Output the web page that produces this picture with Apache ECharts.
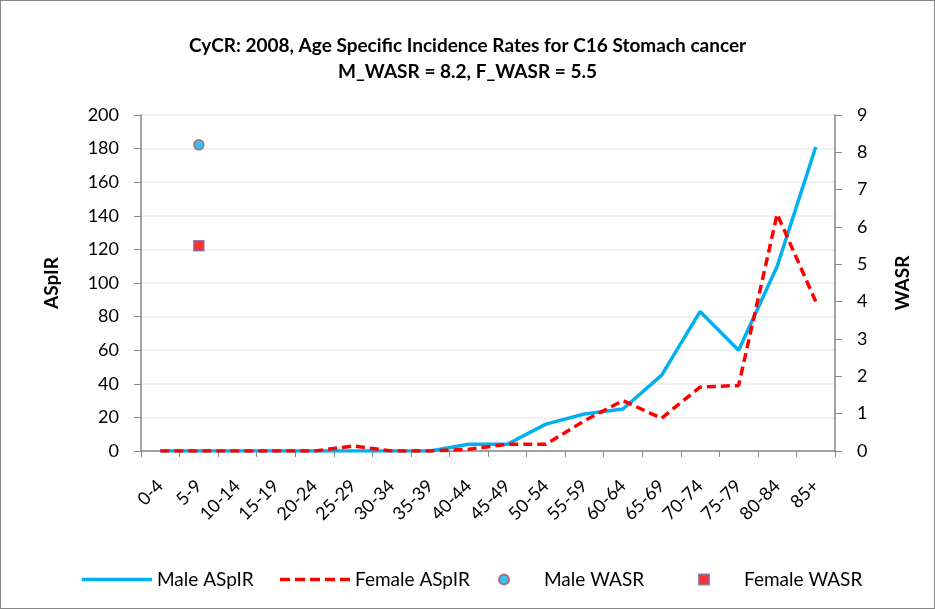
<!DOCTYPE html>
<html>
<head>
<meta charset="utf-8">
<script src="https://cdn.jsdelivr.net/npm/echarts@6/dist/echarts.min.js"></script>
<style>
  body { margin: 0; background: #fff; }
  #chart { width: 933px; height: 607px; border: 1px solid #868686; }
</style>
</head>
<body>
<div id="chart"></div>
<script>
// age groups
const ageGroups = ["0-4", "5-9", "10-14", "15-19", "20-24", "25-29", "30-34", "35-39", "40-44",
  "45-49", "50-54", "55-59", "60-64", "65-69", "70-74", "75-79", "80-84", "85+"];

// age specific incidence rates (left axis)
const maleAspir = [0, 0, 0, 0, 0, 0, 0, 0, 4, 4, 16, 22, 25, 45, 83, 60, 110, 181];
const femaleAspir = [0, 0, 0, 0, 0, 3, 0, 0, 1, 4, 4, 18, 30, 19.5, 38, 39, 141, 89];

// world age standardised rates (right axis)
const wasrCategory = "5-9";
const maleWasr = 8.2;
const femaleWasr = 5.5;

const font = "Lato";
const legendText = { fontFamily: font, fontSize: 19, color: "#000" };

// legend icons: solid bar, dashed bar, square
const solidIcon = "path://M0,0h70v3.5h-70z";
const dashedIcon = "path://M0,0h10v3.5h-10zM15,0h10v3.5h-10zM30,0h10v3.5h-10zM45,0h10v3.5h-10zM60,0h10v3.5h-10z";
const squareIcon = "path://M0,0h10v10h-10z";

// one legend per entry so each sits where the original has it
function legendAt(left, name, icon) {
  return {
    top: 564,
    left: left,
    itemWidth: 70,
    itemHeight: 10,
    textStyle: legendText,
    data: [{ name: name, icon: icon }],
  };
}

const chart = echarts.init(document.getElementById("chart"));

chart.setOption({
  animation: false,
  textStyle: { fontFamily: font },
  title: {
    text: "CyCR: 2008, Age Specific Incidence Rates for C16 Stomach cancer\nM_WASR = 8.2, F_WASR = 5.5",
    left: "center",
    top: 27,
    textStyle: { fontFamily: font, fontSize: 19, fontWeight: "bold", color: "#000", lineHeight: 26 },
  },
  legend: [
    legendAt(76, "Male ASpIR", solidIcon),
    legendAt(274, "Female ASpIR", dashedIcon),
    legendAt(492, "Male WASR", "circle"),
    legendAt(692, "Female WASR", squareIcon),
  ],
  grid: { left: 140, right: 99, top: 114, bottom: 157 },
  xAxis: {
    type: "category",
    data: ageGroups,
    axisLine: { lineStyle: { color: "#868686", width: 1.5 } },
    axisTick: { show: true, length: 6, lineStyle: { color: "#868686" } },
    axisLabel: { rotate: 45, fontSize: 18, color: "#000", margin: 32, interval: 0 },
  },
  yAxis: [
    {
      type: "value",
      name: "ASpIR",
      nameLocation: "middle",
      nameGap: 80,
      nameTextStyle: { fontSize: 19, fontWeight: "bold", color: "#000" },
      min: 0, max: 200, interval: 20,
      axisLine: { show: true, lineStyle: { color: "#868686", width: 1.5 } },
      axisTick: { show: true, length: 7, lineStyle: { color: "#868686" } },
      axisLabel: { fontSize: 18, color: "#000", margin: 22 },
      splitLine: { lineStyle: { color: "#ececec", width: 1.5 } },
    },
    {
      type: "value",
      name: "WASR",
      nameLocation: "middle",
      nameGap: 58,
      nameRotate: 90,
      nameTextStyle: { fontSize: 19, fontWeight: "bold", color: "#000" },
      min: 0, max: 9, interval: 1,
      axisLine: { show: true, lineStyle: { color: "#868686", width: 1.5 } },
      axisTick: { show: true, length: 7, lineStyle: { color: "#868686" } },
      axisLabel: { fontSize: 18, color: "#000", margin: 22 },
      splitLine: { show: false },
    },
  ],
  series: [
    {
      name: "Male ASpIR",
      type: "line",
      yAxisIndex: 0,
      data: maleAspir,
      symbol: "none",
      color: "#00B0F0",
      lineStyle: { color: "#00B0F0", width: 3.5 },
    },
    {
      name: "Female ASpIR",
      type: "line",
      yAxisIndex: 0,
      data: femaleAspir,
      symbol: "none",
      color: "#FF0000",
      lineStyle: { color: "#FF0000", width: 3.5, type: [9, 5] },
    },
    {
      name: "Male WASR",
      type: "scatter",
      yAxisIndex: 1,
      data: [[wasrCategory, maleWasr]],
      symbol: "circle",
      symbolSize: 10,
      itemStyle: { color: "#00B0F0", borderColor: "#C0504D", borderWidth: 1.5 },
    },
    {
      name: "Female WASR",
      type: "scatter",
      yAxisIndex: 1,
      data: [[wasrCategory, femaleWasr]],
      symbol: "rect",
      symbolSize: 10,
      itemStyle: { color: "#FF0000", borderColor: "#8064A2", borderWidth: 1.5 },
    },
  ],
});
</script>
</body>
</html>
